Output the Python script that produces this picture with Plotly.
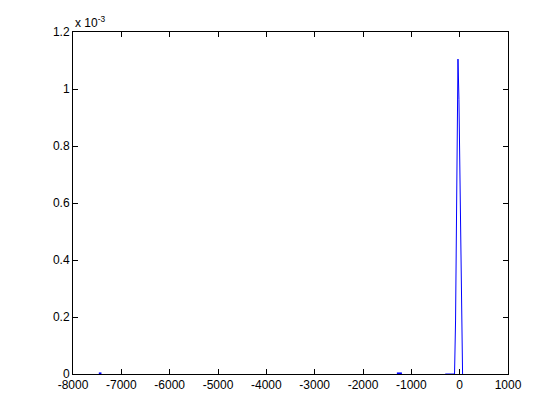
import plotly.graph_objects as go

# main peak (x in data units, y as density)
peak_x = [-298, -106, -85, -64, -44, -35, -15, 6, 27, 48, 60]
peak_y = [0, 0, 0.186e-3, 0.552e-3, 0.92e-3, 1.105e-3, 0.964e-3, 0.692e-3, 0.414e-3, 0.143e-3, 0]

# tiny bumps near the baseline
bump1_x = [-7466, -7411]
bump1_y = [2e-6, 2e-6]
bump2_x = [-1299, -1195]
bump2_y = [2e-6, 2e-6]

x_ticks = [-8000, -7000, -6000, -5000, -4000, -3000, -2000, -1000, 0, 1000]
x_labels = ["-8000", "-7000", "-6000", "-5000", "-4000", "-3000", "-2000", "-1000", "0", "1000"]
y_ticks = [0, 0.2e-3, 0.4e-3, 0.6e-3, 0.8e-3, 1.0e-3, 1.2e-3]
y_labels = ["0", "0.2", "0.4", "0.6", "0.8", "1", "1.2"]

fig = go.Figure()
fig.add_trace(go.Scatter(x=peak_x, y=peak_y, mode="lines", line=dict(color="#0000ff", width=1)))
fig.add_trace(go.Scatter(x=bump1_x, y=bump1_y, mode="lines", line=dict(color="#0000ff", width=2)))
fig.add_trace(go.Scatter(x=bump2_x, y=bump2_y, mode="lines", line=dict(color="#0000ff", width=2)))

axis_common = dict(
    showgrid=False, zeroline=False, showline=True, linecolor="black", linewidth=1,
    ticks="inside", ticklen=5, tickcolor="black", mirror="ticks",
    tickfont=dict(family="Liberation Sans, Arial", size=12, color="black"),
)
fig.update_xaxes(range=[-8000, 1000], tickvals=x_ticks, ticktext=x_labels, **axis_common)
fig.update_yaxes(range=[0, 1.2e-3], tickvals=y_ticks, ticktext=y_labels, **axis_common)

fig.add_annotation(
    text="x 10<sup>-3</sup>", xref="paper", yref="paper", x=0, y=1,
    xanchor="left", yanchor="bottom", showarrow=False,
    font=dict(family="Liberation Sans, Arial", size=12, color="black"),
)

# page adds an 8px body margin, so the figure is a bit smaller than the window
fig.update_layout(
    width=552, height=412, showlegend=False,
    paper_bgcolor="white", plot_bgcolor="white",
    margin=dict(l=65, r=52, t=24, b=46),
)
fig.write_html("out.html")
